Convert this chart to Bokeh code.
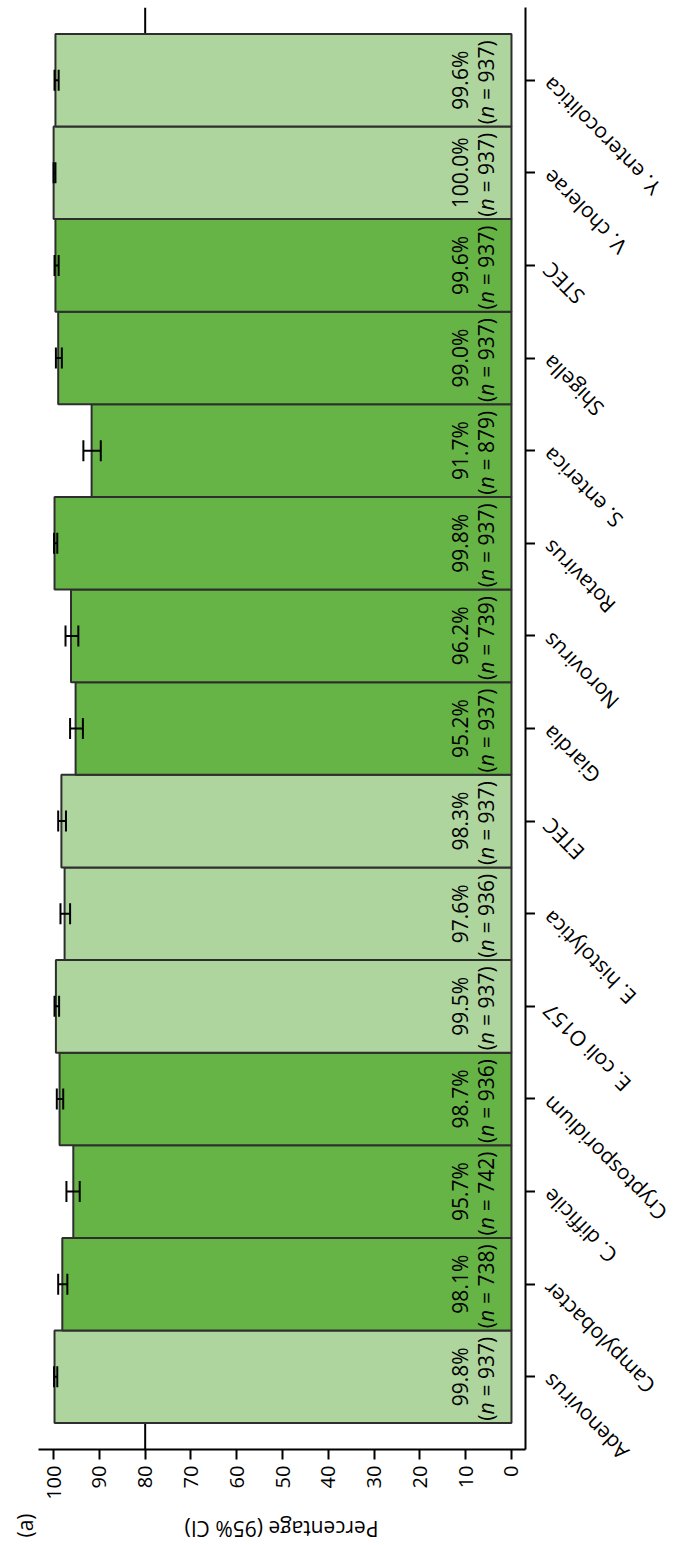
import math

from bokeh.core.properties import value
from bokeh.embed import file_html
from bokeh.layouts import column, row
from bokeh.models import (ColumnDataSource, FactorRange, FixedTicker, Range1d,
                          Span, TeeHead, Whisker)
from bokeh.plotting import figure
from bokeh.resources import INLINE
from bokeh.transform import factor_cmap

# ---- data ---------------------------------------------------------------
pathogens = [
    "Adenovirus", "Campylobacter", "C. difficile", "Cryptosporidium",
    "E. coli O157", "E. histolytica", "ETEC", "Giardia", "Norovirus",
    "Rotavirus", "S. enterica", "Shigella", "STEC", "V. cholerae",
    "Y. enterocolitica",
]
percent = [99.8, 98.1, 95.7, 98.7, 99.5, 97.6, 98.3, 95.2, 96.2,
           99.8, 91.7, 99.0, 99.6, 100.0, 99.6]
n_tested = [937, 738, 742, 936, 937, 936, 937, 937, 739,
            937, 879, 937, 937, 937, 937]
ci_low = [99.2, 97.0, 94.3, 97.9, 98.8, 96.4, 97.3, 93.6, 94.6,
          99.2, 89.7, 98.2, 98.9, 99.6, 98.9]
ci_high = [99.9, 99.0, 97.2, 99.3, 99.8, 98.5, 99.0, 96.4, 97.4,
           99.9, 93.5, 99.5, 99.8, 100.0, 99.8]
panel_group = ["light", "dark", "dark", "dark", "light", "light", "light",
               "dark", "dark", "dark", "dark", "dark", "dark", "light", "light"]
pct_ticks = [0, 10, 20, 30, 40, 50, 60, 70, 80, 90, 100]
threshold = 80
axis_title = "Percentage (95% CI)"
panel_tag = "(a)"

FONT = "Open Sans"
NBSP = "\u00a0"

# ---- page geometry ------------------------------------------------------------
PAGE_W, PAGE_H = 673, 1545
MAIN_W, MAIN_H = 535, 1510
BORDER_L, BORDER_R, BORDER_T, BORDER_B = 38, 10, 7, 61
CAT_PAD = 0.285                       # category-axis padding, in bar widths
n_cat = len(pathogens)
frame_h = MAIN_H - BORDER_T - BORDER_B
px_per_cat = frame_h / (n_cat + 2 * CAT_PAD)

src = ColumnDataSource(dict(
    pathogen=pathogens,
    pct=percent,
    lo=ci_low,
    hi=ci_high,
    group=panel_group,
    pct_text=[f"{v:.1f}%" for v in percent],
    n_tail=[f"{NBSP}={NBSP}{n})" for n in n_tested],
    open_paren=["("] * n_cat,
    n_sym=["n"] * n_cat,
    # synthetic position of each factor on the categorical axis
    cat_pos=[i + 0.5 for i in range(n_cat)],
))


def bare(fig):
    fig.xgrid.visible = False
    fig.ygrid.visible = False
    fig.outline_line_color = None
    fig.background_fill_color = "white"
    fig.border_fill_color = "white"
    return fig


# ---- main panel: bars, whiskers, value axis --------------------------------
main = bare(figure(
    width=MAIN_W, height=MAIN_H,
    x_range=Range1d(103.3, -3.06),
    y_range=FactorRange(factors=pathogens, range_padding=CAT_PAD,
                        range_padding_units="absolute"),
    x_axis_location="below", y_axis_location="right",
    output_backend="svg", toolbar_location=None,
    min_border_left=BORDER_L, min_border_right=BORDER_R,
    min_border_top=BORDER_T, min_border_bottom=BORDER_B,
))

# reference line at 80 %, sitting behind the bars
main.add_layout(Span(location=threshold, dimension="height",
                     line_color="black", line_width=2, level="underlay"))

main.hbar(y="pathogen", left=0, right="pct", height=1.0, source=src,
          fill_color=factor_cmap("group", palette=["#afd59f", "#66b446"],
                                 factors=["light", "dark"]),
          line_color="#2e2e2e", line_width=2)

head_kw = dict(size=21, line_width=2, line_color="black")
ci = Whisker(source=src, base="pathogen", lower="lo", upper="hi",
             dimension="width", line_width=2, line_color="black",
             upper_head=TeeHead(**head_kw), lower_head=TeeHead(**head_kw))
ci.level = "annotation"
main.add_layout(ci)

# value labels inside the bars, rotated to read upwards
txt_kw = dict(angle=math.pi / 2, text_font=value(FONT), text_font_size="21px",
              text_color="black", text_baseline="middle")
main.text(y="pathogen", x=0, text="pct_text", source=src, x_offset=-51,
          text_align="center", **txt_kw)
main.text(y="pathogen", x=0, text="open_paren", source=src, x_offset=-25,
          y_offset=44, text_align="left", **txt_kw)
main.text(y="pathogen", x=0, text="n_sym", source=src, x_offset=-25,
          y_offset=37.8, text_align="left", text_font_style="italic", **txt_kw)
main.text(y="pathogen", x=0, text="n_tail", source=src, x_offset=-25,
          y_offset=25.2, text_align="left", **txt_kw)

xa = main.xaxis[0]
xa.ticker = FixedTicker(ticks=pct_ticks)
xa.major_label_orientation = math.pi / 2
xa.major_tick_out = 10
xa.major_tick_in = 0
xa.minor_tick_out = 0
xa.minor_tick_in = 0
xa.major_label_standoff = 6
xa.axis_line_width = 2
xa.major_tick_line_width = 2
xa.axis_line_color = "black"
xa.major_tick_line_color = "black"
xa.major_label_text_font = FONT
xa.major_label_text_font_size = "20px"
xa.major_label_text_color = "black"

ya = main.yaxis[0]
ya.major_tick_out = 10
ya.major_tick_in = 0
ya.major_label_standoff = 0
ya.axis_line_width = 2
ya.major_tick_line_width = 2
ya.axis_line_color = "black"
ya.major_tick_line_color = "black"
ya.major_label_text_color = None
ya.major_label_text_font_size = "0px"

# ---- category names, slanted, to the right of the axis ---------------------
# borderless strip whose vertical scale lines up with the category axis
strip_top = n_cat + CAT_PAD + BORDER_T / px_per_cat
strip_bottom = strip_top - MAIN_H / px_per_cat
names = bare(figure(
    width=PAGE_W - MAIN_W, height=MAIN_H,
    x_range=Range1d(0, PAGE_W - MAIN_W),
    y_range=Range1d(strip_bottom, strip_top),
    x_axis_location=None, y_axis_location=None,
    output_backend="svg", toolbar_location=None,
    min_border_left=0, min_border_right=0,
    min_border_top=0, min_border_bottom=0,
))
names.text(x=0, y="cat_pos", text="pathogen", source=src, x_offset=1,
           y_offset=11, angle=3 * math.pi / 4, text_align="right",
           text_baseline="top", text_font=value(FONT),
           text_font_size="21px", text_color="black")

# ---- footer: axis title and panel tag ----------------------------------------
footer = bare(figure(
    width=PAGE_W, height=PAGE_H - MAIN_H,
    x_range=Range1d(0, PAGE_W), y_range=Range1d(0, PAGE_H - MAIN_H),
    x_axis_location=None, y_axis_location=None,
    output_backend="svg", toolbar_location=None,
    min_border_left=0, min_border_right=0,
    min_border_top=0, min_border_bottom=0,
))
footer.text(x=[281], y=[17], text=[axis_title], angle=math.pi,
            text_align="center", text_baseline="middle",
            text_font=value(FONT), text_font_size="21px", text_color="black")
footer.text(x=[24], y=[20], text=[panel_tag], angle=math.pi / 2,
            text_align="center", text_baseline="middle",
            text_font=value(FONT), text_font_size="21px", text_color="black")

# the name strip sits in its own column so its borders stay independent
page = column(row(main, column(names, spacing=0), spacing=0), footer,
              spacing=0)
open("out.html", "w").write(file_html(page, INLINE))
